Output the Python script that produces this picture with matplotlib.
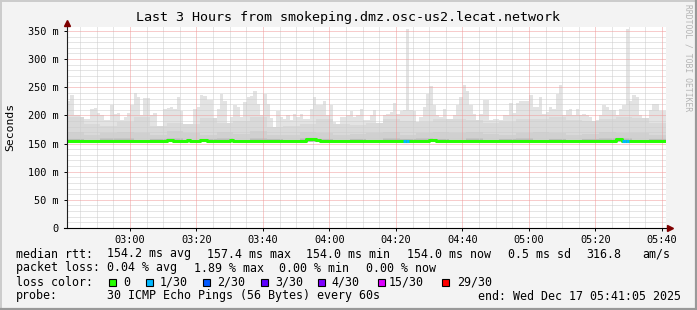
import numpy as np
import matplotlib
matplotlib.use('Agg')
import matplotlib.pyplot as plt
from matplotlib.patches import Rectangle
from matplotlib.lines import Line2D

# ---- data (one value per 60 s step, 02:41 -> 05:41) ----
start_min = 161 + 5 / 60.0          # 02:41:05 in minutes after midnight
n_steps = 180

# top of the smoke (max ping), ms
smoke_max = [
    226, 236, 201, 200, 197, 194, 194, 212, 213, 205,
    200, 191, 191, 219, 203, 205, 191, 197, 205, 219,
    240, 232, 200, 231, 231, 200, 205, 179, 182, 212,
    213, 215, 212, 232, 207, 182, 181, 179, 211, 215,
    236, 234, 228, 228, 188, 212, 238, 225, 182, 197,
    218, 215, 197, 224, 232, 235, 244, 221, 200, 238,
    221, 195, 165, 207, 197, 194, 200, 191, 203, 197,
    203, 193, 194, 212, 232, 218, 219, 226, 200, 218,
    188, 182, 197, 197, 200, 207, 197, 200, 212, 191,
    191, 200, 209, 185, 185, 200, 203, 206, 222, 203,
    207, 209, 353, 209, 207, 188, 197, 215, 238, 252,
    218, 200, 197, 211, 191, 188, 200, 218, 232, 254,
    244, 218, 203, 188, 203, 228, 228, 191, 193, 194,
    191, 200, 200, 222, 205, 222, 226, 226, 226, 236,
    215, 215, 232, 203, 206, 215, 212, 238, 254, 200,
    209, 211, 200, 211, 201, 203, 200, 197, 182, 191,
    200, 218, 215, 209, 209, 200, 212, 218, 354, 226,
    236, 232, 200, 191, 194, 209, 221, 221, 207, 207,
]

# inner smoke bands, one value per 5 minutes
smoke_mid = [198, 185, 182, 188, 198, 182, 186, 184, 196, 186, 190, 198,
             180, 182, 184, 194, 184, 183, 187, 193, 190, 188, 194, 194,
             192, 186, 188, 194, 194, 198, 192, 190, 194, 198, 196, 187]
smoke_inner = [170, 166, 168, 171, 169, 165, 172, 168, 166, 170, 167, 172,
               165, 166, 170, 168, 166, 167, 168, 170, 166, 169, 171, 168,
               170, 167, 166, 169, 170, 168, 166, 167, 171, 169, 168, 166]
smoke_core = [158, 157, 159, 160, 157, 158, 160, 157, 158, 159, 157, 160,
              158, 157, 160, 158, 157, 158, 157, 159, 158, 160, 158, 157,
              159, 157, 158, 160, 157, 158, 157, 158, 159, 160, 157, 158]
smoke_min = 153.5

# median rtt, ms
median = [154.0] * n_steps
for k, v in [(30, 157), (31, 157), (36, 157), (40, 156.5), (41, 156.5),
             (49, 156), (72, 158), (73, 158), (74, 158), (75, 157),
             (109, 156.5), (110, 156.5), (165, 158.5), (166, 158)]:
    median[k] = v

# lost pings out of 30 per step
loss = [0] * n_steps
for k in (101, 102, 167, 168):
    loss[k] = 1

loss_labels = ['0', '1/30', '2/30', '3/30', '4/30', '15/30', '29/30']
loss_colors = ['#26ff00', '#00b8ff', '#0059ff', '#5e00ff', '#7e00ff', '#dd00ff', '#ff0000']

y_ticks = [0, 50, 100, 150, 200, 250, 300, 350]
x_ticks = [180, 200, 220, 240, 260, 280, 300, 320, 340]
x_labels = ['03:00', '03:20', '03:40', '04:00', '04:20', '04:40', '05:00', '05:20', '05:40']

# ---- figure ----
W, H = 697, 310
fig = plt.figure(figsize=(W / 100, H / 100), dpi=100, facecolor='#f3f3f3')
mono = 'DejaVu Sans Mono'

def fx(px):
    return px / W

def fy(py):
    return 1 - py / H

ax = fig.add_axes([fx(67), fy(228), fx(665.5) - fx(67), fy(27) - fy(228)])
ax.set_facecolor('white')
ax.set_xlim(start_min, start_min + n_steps)
ax.set_ylim(0, 357)
for s in ax.spines.values():
    s.set_visible(False)

t = start_min + np.arange(n_steps + 1)

def ext(a):
    a = np.asarray(a, dtype=float)
    return np.append(a, a[-1])

ax.fill_between(t, smoke_min, ext(smoke_max), step='post', color='#e3e3e3', lw=0, zorder=1)
ax.fill_between(t, smoke_min, ext(np.repeat(smoke_mid, 5)), step='post', color='#d9d9d9', lw=0, zorder=1)
ax.fill_between(t, smoke_min, ext(np.repeat(smoke_inner, 5)), step='post', color='#d0d0d0', lw=0, zorder=1)
ax.fill_between(t, smoke_min, ext(np.repeat(smoke_core, 5)), step='post', color='#bdbdbd', lw=0, zorder=1)

# grid, 1px dotted
dot = (0, (1, 1))
gkw = dict(lw=0.72, ls=dot, zorder=2)
for m in np.arange(165, 342, 5):
    if m in x_ticks:
        continue
    ax.axvline(m, color='#cdcdcd', **gkw)
for v in range(10, 360, 10):
    if v % 50 == 0:
        continue
    ax.axhline(v, color='#cdcdcd', **gkw)
for m in x_ticks:
    ax.axvline(m, color='#f09a9a', **gkw)
for v in y_ticks[1:]:
    ax.axhline(v, color='#f09a9a', **gkw)

# median line coloured by loss
ax.step(t, ext(median), where='post', color=loss_colors[0], lw=2.2, zorder=3, solid_capstyle='butt')
for k in range(n_steps):
    if loss[k] > 0:
        ax.hlines(median[k], t[k], t[k + 1], color=loss_colors[loss[k]], lw=2.2, zorder=4)

ax.set_xticks(x_ticks)
ax.set_xticklabels(x_labels)
ax.set_yticks(y_ticks)
ax.set_yticklabels(['0' if v == 0 else '%d m' % v for v in y_ticks])
ax.tick_params(axis='both', length=2, width=0.7, color='#000000', labelsize=7.4)
ax.tick_params(axis='x', pad=3)
ax.tick_params(axis='y', pad=4)
for lab in ax.get_xticklabels() + ax.get_yticklabels():
    lab.set_fontfamily(mono)

# axes lines and arrows
fig.add_artist(Line2D([fx(67), fx(67)], [fy(228), fy(24)], color='#202020', lw=0.8))
fig.add_artist(Line2D([fx(64), fx(668)], [fy(228), fy(228)], color='#000000', lw=0.8))
fig.add_artist(Line2D([fx(67)], [fy(23)], marker='^', ms=4.5, color='#7f0000', lw=0))
fig.add_artist(Line2D([fx(670)], [fy(228)], marker='>', ms=4.5, color='#7f0000', lw=0))

# frame shading
fig.add_artist(Line2D([0, 1], [fy(0.7), fy(0.7)], color='#cbcbcb', lw=1.4))
fig.add_artist(Line2D([fx(0.7), fx(0.7)], [0, 1], color='#cbcbcb', lw=1.4))
fig.add_artist(Line2D([0, 1], [fy(H - 1), fy(H - 1)], color='#999999', lw=1.6))
fig.add_artist(Line2D([fx(W - 1), fx(W - 1)], [0, 1], color='#999999', lw=1.6))

# titles
fig.text(fx(348), fy(18), 'Last 3 Hours from smokeping.dmz.osc-us2.lecat.network',
         ha='center', va='center', fontsize=9.6, family=mono)
fig.text(fx(10), fy(127), 'Seconds', rotation=90, ha='center', va='center',
         fontsize=8.2, family=mono)
fig.text(fx(688), fy(4), 'RRDTOOL / TOBI OETIKER', rotation=270, ha='center', va='top',
         fontsize=5.8, family=mono, color='#b4b4b4')

# legend
leg = 8.4
def ltext(x, y, s):
    fig.text(fx(x), fy(y), s, ha='left', va='center', fontsize=leg, family=mono)

y1, y2, y3, y4 = 254, 268, 282, 296
ltext(16, y1, 'median rtt:')
ltext(107, y1, '154.2 ms avg')
ltext(207, y1, '157.4 ms max')
ltext(306.5, y1, '154.0 ms min')
ltext(407, y1, '154.0 ms now')
ltext(507.5, y1, '0.5 ms sd')
ltext(586, y1, '316.8')
ltext(642, y1, 'am/s')

ltext(16, y2, 'packet loss:')
ltext(107, y2, '0.04 % avg')
ltext(194, y2, '1.89 % max')
ltext(279, y2, '0.00 % min')
ltext(366, y2, '0.00 % now')

ltext(16, y3, 'loss color:')
box_x = [108.7, 145.7, 203.3, 261, 318.3, 378, 442.3]
lab_x = [123.3, 160, 217.3, 275, 331.7, 389, 456.7]
for bx, lx, c, s in zip(box_x, lab_x, loss_colors, loss_labels):
    fig.add_artist(Rectangle((fx(bx), fy(286)), fx(7), 7 / H, facecolor=c,
                             edgecolor='black', lw=0.8))
    ltext(lx, y3, s)

ltext(16, y4, 'probe:')
ltext(107, y4, '30 ICMP Echo Pings (56 Bytes) every 60s')
ltext(478, y4, 'end: Wed Dec 17 05:41:05 2025')

fig.savefig('out.png', dpi=100, facecolor=fig.get_facecolor())
